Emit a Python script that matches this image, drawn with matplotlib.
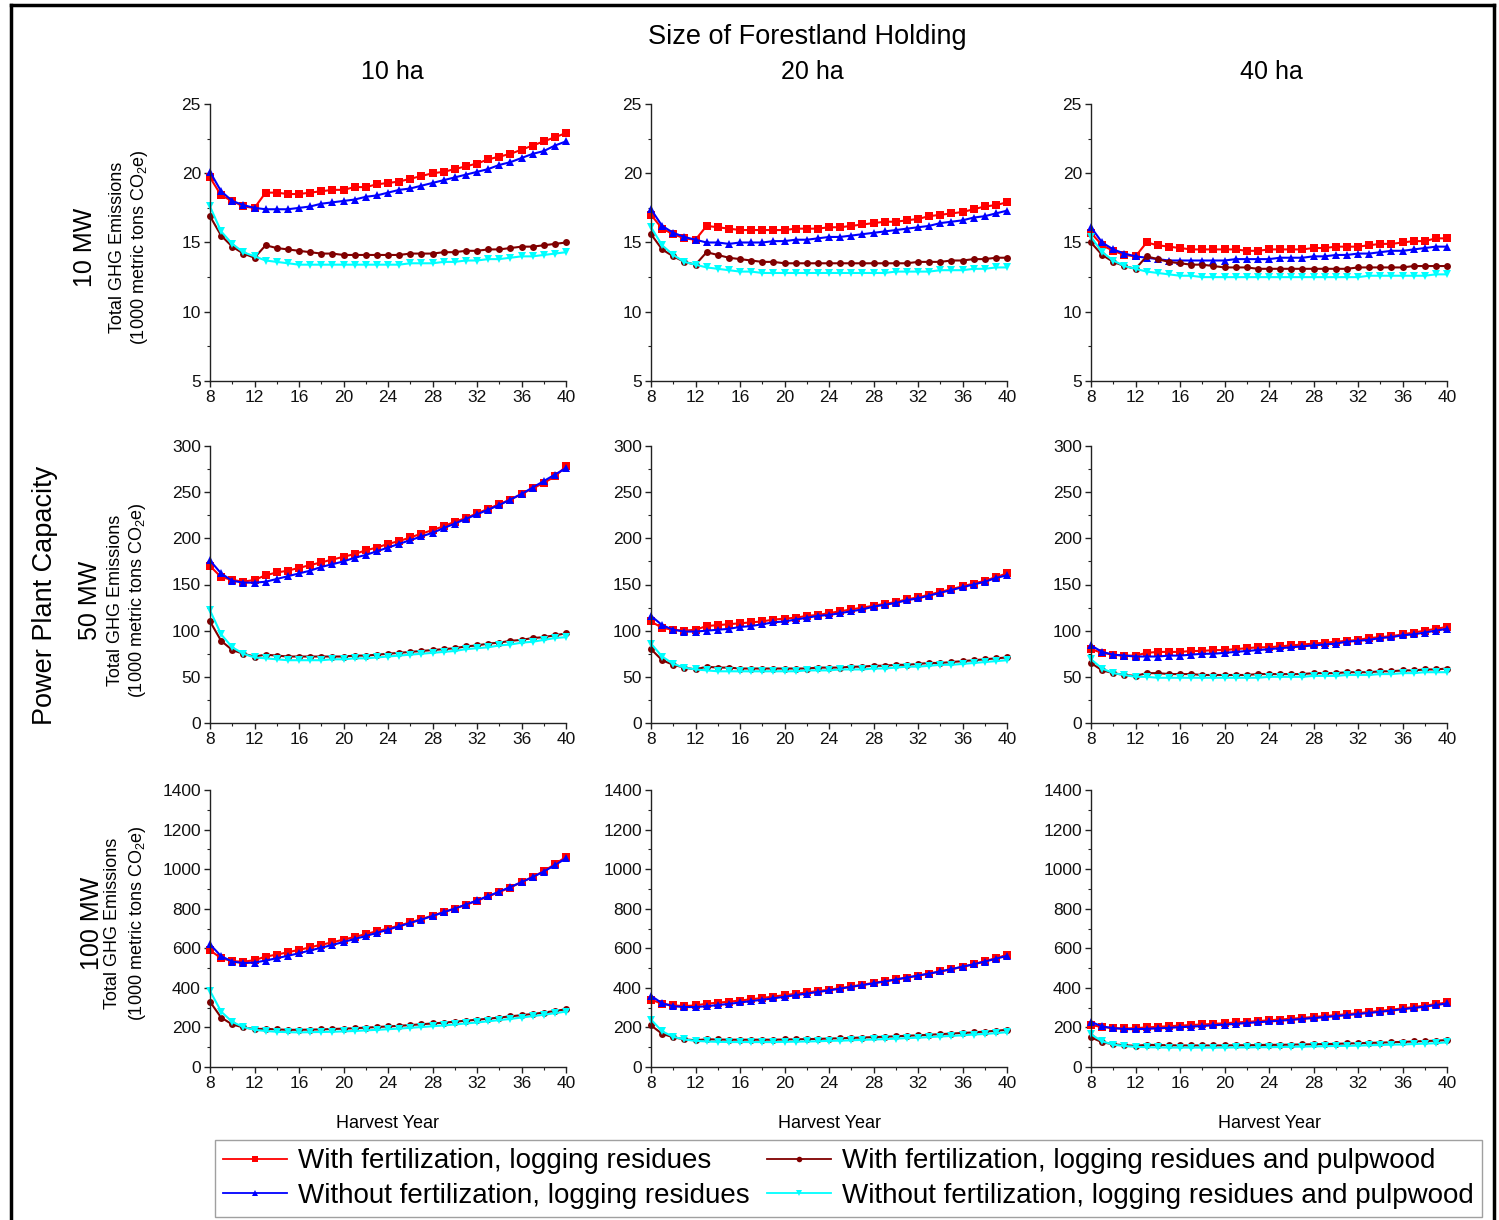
import matplotlib
matplotlib.use("Agg")
import matplotlib.pyplot as plt
from matplotlib.ticker import MultipleLocator, AutoMinorLocator
from matplotlib.lines import Line2D

plt.rcParams['font.family'] = ['Liberation Sans', 'DejaVu Sans']
plt.rcParams['mathtext.fontset'] = 'custom'
plt.rcParams['mathtext.rm'] = 'Liberation Sans'
plt.rcParams['mathtext.it'] = 'Liberation Sans:italic'

# ---------------- data ----------------
harvest_year = list(range(8, 41))

capacities = ["10 MW", "50 MW", "100 MW"]
holdings = ["10 ha", "20 ha", "40 ha"]
series_labels = ["With fertilization, logging residues",
                 "Without fertilization, logging residues",
                 "With fertilization, logging residues and pulpwood",
                 "Without fertilization, logging residues and pulpwood"]

# 10 MW, 10 ha
mw10_ha10_fert_res = [19.7, 18.4, 18.0, 17.6, 17.5, 18.6, 18.6, 18.5, 18.5, 18.6, 18.7, 18.8, 18.8, 19.0, 19.0, 19.2, 19.3,
                      19.4, 19.6, 19.8, 20.0, 20.1, 20.3, 20.5, 20.7, 21.0, 21.2, 21.4, 21.7, 22.0, 22.3, 22.6, 22.9]
mw10_ha10_nofert_res = [20.1, 18.7, 18.0, 17.7, 17.5, 17.4, 17.4, 17.4, 17.5, 17.6, 17.8, 17.9, 18.0, 18.1, 18.3, 18.4, 18.6,
                        18.8, 18.9, 19.1, 19.3, 19.5, 19.7, 19.9, 20.1, 20.3, 20.6, 20.8, 21.1, 21.4, 21.6, 22.0, 22.3]
mw10_ha10_fert_pulp = [16.9, 15.5, 14.7, 14.2, 13.9, 14.8, 14.6, 14.5, 14.4, 14.3, 14.2, 14.2, 14.1, 14.1, 14.1, 14.1, 14.1,
                       14.1, 14.2, 14.2, 14.2, 14.3, 14.3, 14.4, 14.4, 14.5, 14.5, 14.6, 14.7, 14.7, 14.8, 14.9, 15.0]
mw10_ha10_nofert_pulp = [17.6, 15.8, 14.9, 14.3, 14.0, 13.7, 13.6, 13.5, 13.4, 13.4, 13.4, 13.4, 13.4, 13.4, 13.4, 13.4, 13.4,
                         13.4, 13.5, 13.5, 13.5, 13.6, 13.6, 13.7, 13.7, 13.8, 13.8, 13.9, 14.0, 14.0, 14.1, 14.2, 14.3]

# 10 MW, 20 ha
mw10_ha20_fert_res = [17.0, 16.0, 15.6, 15.3, 15.2, 16.2, 16.1, 16.0, 15.9, 15.9, 15.9, 15.9, 15.9, 16.0, 16.0, 16.0, 16.1,
                      16.1, 16.2, 16.3, 16.4, 16.5, 16.5, 16.6, 16.7, 16.9, 17.0, 17.1, 17.2, 17.4, 17.6, 17.7, 17.9]
mw10_ha20_nofert_res = [17.4, 16.2, 15.7, 15.4, 15.2, 15.0, 15.0, 14.9, 15.0, 15.0, 15.0, 15.1, 15.1, 15.2, 15.2, 15.3, 15.4,
                        15.4, 15.5, 15.6, 15.7, 15.8, 15.9, 16.0, 16.1, 16.2, 16.4, 16.5, 16.6, 16.8, 16.9, 17.1, 17.3]
mw10_ha20_fert_pulp = [15.6, 14.5, 14.0, 13.6, 13.4, 14.3, 14.1, 13.9, 13.8, 13.7, 13.6, 13.6, 13.5, 13.5, 13.5, 13.5, 13.5,
                       13.5, 13.5, 13.5, 13.5, 13.5, 13.5, 13.5, 13.6, 13.6, 13.6, 13.7, 13.7, 13.8, 13.8, 13.9, 13.9]
mw10_ha20_nofert_pulp = [16.1, 14.8, 14.1, 13.6, 13.4, 13.2, 13.1, 13.0, 12.9, 12.9, 12.8, 12.8, 12.8, 12.8, 12.8, 12.8, 12.8,
                         12.8, 12.8, 12.8, 12.8, 12.8, 12.9, 12.9, 12.9, 12.9, 13.0, 13.0, 13.0, 13.1, 13.1, 13.2, 13.2]

# 10 MW, 40 ha
mw10_ha40_fert_res = [15.7, 14.8, 14.4, 14.1, 14.0, 15.0, 14.8, 14.7, 14.6, 14.5, 14.5, 14.5, 14.5, 14.5, 14.4, 14.4, 14.5,
                      14.5, 14.5, 14.5, 14.6, 14.6, 14.7, 14.7, 14.7, 14.8, 14.9, 14.9, 15.0, 15.1, 15.1, 15.3, 15.3]
mw10_ha40_nofert_res = [16.1, 15.0, 14.5, 14.2, 14.0, 13.9, 13.8, 13.7, 13.7, 13.7, 13.7, 13.7, 13.7, 13.8, 13.8, 13.8, 13.8,
                        13.9, 13.9, 13.9, 14.0, 14.0, 14.1, 14.1, 14.2, 14.2, 14.3, 14.4, 14.4, 14.5, 14.6, 14.7, 14.7]
mw10_ha40_fert_pulp = [15.0, 14.1, 13.6, 13.3, 13.1, 14.0, 13.8, 13.6, 13.5, 13.4, 13.4, 13.3, 13.2, 13.2, 13.2, 13.1, 13.1,
                       13.1, 13.1, 13.1, 13.1, 13.1, 13.1, 13.1, 13.2, 13.2, 13.2, 13.2, 13.2, 13.3, 13.3, 13.3, 13.3]
mw10_ha40_nofert_pulp = [15.4, 14.3, 13.7, 13.3, 13.1, 12.9, 12.8, 12.7, 12.6, 12.6, 12.5, 12.5, 12.5, 12.5, 12.5, 12.5, 12.5,
                         12.5, 12.5, 12.5, 12.5, 12.5, 12.5, 12.5, 12.5, 12.6, 12.6, 12.6, 12.6, 12.6, 12.6, 12.7, 12.7]

# 50 MW, 10 ha
mw50_ha10_fert_res = [170, 158, 155, 153, 155, 160, 163, 165, 168, 171, 174, 177, 180, 183, 187, 190, 194,
                      197, 201, 205, 209, 213, 218, 222, 227, 232, 237, 242, 248, 254, 260, 267, 278]
mw50_ha10_nofert_res = [176, 162, 154, 152, 152, 153, 156, 159, 162, 165, 169, 172, 175, 179, 182, 186, 190,
                        194, 198, 202, 206, 211, 216, 221, 226, 231, 236, 242, 248, 255, 262, 269, 276]
mw50_ha10_fert_pulp = [110, 89, 79, 75, 72, 74, 73, 72, 72, 72, 72, 72, 72, 73, 73, 74, 75,
                       76, 77, 78, 79, 80, 81, 83, 84, 86, 87, 89, 90, 92, 93, 95, 97]
mw50_ha10_nofert_pulp = [122, 96, 82, 75, 71, 70, 69, 68, 68, 68, 68, 69, 69, 70, 70, 71, 72,
                         73, 74, 75, 76, 77, 78, 80, 81, 82, 84, 85, 87, 88, 90, 92, 93]

# 50 MW, 20 ha
mw50_ha20_fert_res = [110, 103, 101, 100, 101, 105, 106, 107, 108, 109, 110, 112, 113, 114, 116, 117, 119,
                      121, 123, 125, 127, 129, 131, 134, 136, 139, 142, 145, 148, 151, 154, 158, 162]
mw50_ha20_nofert_res = [116, 106, 101, 99, 99, 100, 101, 102, 104, 105, 107, 109, 110, 112, 114, 116, 117,
                        119, 121, 123, 126, 128, 130, 133, 135, 138, 141, 144, 147, 150, 153, 157, 160]
mw50_ha20_fert_pulp = [80, 68, 63, 60, 58, 61, 60, 60, 59, 59, 59, 59, 59, 59, 59, 60, 60,
                       60, 61, 61, 62, 62, 63, 63, 64, 65, 65, 66, 67, 68, 69, 70, 71]
mw50_ha20_nofert_pulp = [86, 72, 64, 60, 58, 57, 56, 56, 56, 56, 56, 56, 56, 56, 57, 57, 57,
                         58, 58, 58, 59, 59, 60, 61, 61, 62, 63, 63, 64, 65, 66, 67, 68]

# 50 MW, 40 ha
mw50_ha40_fert_res = [80, 76, 74, 73, 73, 76, 77, 77, 77, 78, 78, 79, 79, 80, 81, 82, 82,
                      83, 84, 85, 86, 87, 88, 89, 90, 92, 93, 94, 96, 98, 100, 102, 104]
mw50_ha40_nofert_res = [84, 77, 74, 73, 72, 72, 72, 73, 73, 74, 75, 75, 76, 77, 78, 79, 80,
                        81, 82, 83, 84, 85, 86, 88, 89, 90, 92, 93, 95, 96, 98, 100, 102]
mw50_ha40_fert_pulp = [65, 57, 54, 52, 51, 54, 54, 53, 53, 53, 52, 52, 52, 52, 52, 53, 53,
                       53, 53, 53, 54, 54, 54, 55, 55, 55, 56, 56, 57, 57, 58, 58, 59]
mw50_ha40_nofert_pulp = [69, 59, 54, 52, 50, 50, 49, 49, 49, 49, 49, 49, 49, 49, 49, 49, 50,
                         50, 50, 50, 51, 51, 51, 52, 52, 52, 53, 53, 54, 54, 55, 55, 55]

# 100 MW, 10 ha
mw100_ha10_fert_res = [590, 550, 535, 532, 540, 558, 568, 580, 592, 605, 618, 630, 644, 657, 672, 686, 700,
                       715, 731, 748, 765, 783, 801, 820, 840, 862, 884, 907, 935, 960, 990, 1025, 1062]
mw100_ha10_nofert_res = [620, 560, 533, 525, 528, 538, 550, 562, 575, 589, 603, 617, 632, 647, 662, 678, 694,
                         711, 728, 745, 763, 782, 801, 821, 842, 864, 886, 910, 934, 960, 988, 1020, 1055]
mw100_ha10_fert_pulp = [330, 250, 215, 200, 192, 193, 190, 188, 188, 189, 190, 192, 194, 196, 199, 202, 205,
                        208, 212, 216, 220, 224, 229, 234, 239, 244, 250, 256, 262, 268, 275, 283, 292]
mw100_ha10_nofert_pulp = [385, 280, 228, 202, 188, 182, 178, 176, 175, 176, 177, 178, 180, 182, 185, 188, 191,
                          194, 198, 202, 206, 210, 215, 220, 225, 231, 237, 243, 250, 257, 264, 272, 280]

# 100 MW, 20 ha
mw100_ha20_fert_res = [340, 320, 311, 308, 311, 320, 325, 330, 336, 342, 349, 356, 363, 370, 377, 384, 391,
                       399, 407, 416, 425, 434, 443, 452, 462, 472, 483, 494, 506, 520, 535, 550, 567]
mw100_ha20_nofert_res = [360, 322, 307, 303, 303, 307, 313, 319, 326, 333, 340, 347, 355, 363, 371, 379, 387,
                         396, 405, 414, 423, 432, 442, 452, 462, 472, 483, 495, 507, 519, 533, 547, 562]
mw100_ha20_fert_pulp = [210, 168, 150, 140, 135, 140, 139, 138, 138, 138, 138, 138, 139, 140, 141, 142, 144,
                        145, 147, 149, 151, 153, 155, 158, 160, 163, 166, 169, 172, 175, 179, 183, 188]
mw100_ha20_nofert_pulp = [240, 180, 153, 139, 132, 129, 127, 126, 126, 126, 126, 126, 127, 128, 129, 130, 132,
                          133, 135, 137, 139, 141, 143, 146, 148, 151, 154, 157, 160, 164, 167, 171, 176]

# 100 MW, 40 ha
mw100_ha40_fert_res = [212, 202, 197, 195, 196, 200, 203, 206, 209, 212, 215, 218, 221, 225, 228, 232, 236,
                       240, 244, 248, 253, 257, 262, 267, 272, 278, 284, 290, 296, 303, 310, 318, 326]
mw100_ha40_nofert_res = [228, 205, 196, 192, 191, 193, 195, 198, 201, 204, 207, 211, 214, 218, 222, 226, 230,
                         234, 238, 243, 247, 252, 257, 262, 268, 273, 279, 285, 292, 298, 305, 313, 321]
mw100_ha40_fert_pulp = [150, 125, 115, 110, 107, 112, 111, 110, 109, 109, 109, 109, 109, 110, 110, 111, 112,
                        112, 113, 114, 115, 116, 117, 119, 120, 122, 123, 125, 127, 129, 131, 133, 136]
mw100_ha40_nofert_pulp = [165, 130, 113, 106, 102, 100, 99, 98, 98, 98, 98, 98, 98, 99, 99, 100, 100,
                          101, 102, 103, 104, 105, 106, 107, 108, 110, 111, 113, 114, 116, 118, 120, 125]

panels = [
    [(mw10_ha10_fert_res, mw10_ha10_nofert_res, mw10_ha10_fert_pulp, mw10_ha10_nofert_pulp),
     (mw10_ha20_fert_res, mw10_ha20_nofert_res, mw10_ha20_fert_pulp, mw10_ha20_nofert_pulp),
     (mw10_ha40_fert_res, mw10_ha40_nofert_res, mw10_ha40_fert_pulp, mw10_ha40_nofert_pulp)],
    [(mw50_ha10_fert_res, mw50_ha10_nofert_res, mw50_ha10_fert_pulp, mw50_ha10_nofert_pulp),
     (mw50_ha20_fert_res, mw50_ha20_nofert_res, mw50_ha20_fert_pulp, mw50_ha20_nofert_pulp),
     (mw50_ha40_fert_res, mw50_ha40_nofert_res, mw50_ha40_fert_pulp, mw50_ha40_nofert_pulp)],
    [(mw100_ha10_fert_res, mw100_ha10_nofert_res, mw100_ha10_fert_pulp, mw100_ha10_nofert_pulp),
     (mw100_ha20_fert_res, mw100_ha20_nofert_res, mw100_ha20_fert_pulp, mw100_ha20_nofert_pulp),
     (mw100_ha40_fert_res, mw100_ha40_nofert_res, mw100_ha40_fert_pulp, mw100_ha40_nofert_pulp)],
]

y_limits = [(5, 25), (0, 300), (0, 1400)]
y_major = [5, 50, 200]

# ---------------- styling ----------------
colors = ["#FF0000", "#0000FF", "#800000", "#00FFFF"]
markers = ["s", "^", "o", "v"]
msizes = [5.5, 6.0, 5.0, 6.0]

W, H = 1499, 1220
fig = plt.figure(figsize=(W / 100, H / 100), dpi=100)

col_left = [210, 651, 1091]
ax_w = 356
row_top = [104, 446, 790]
ax_h = 277

def fx(px):
    return px / W

def fy(py):
    return 1 - py / H

for r in range(3):
    for c in range(3):
        ax = fig.add_axes([fx(col_left[c]), fy(row_top[r] + ax_h), fx(ax_w), ax_h / H])
        for k in range(4):
            ax.plot(harvest_year, panels[r][c][k], color=colors[k], marker=markers[k],
                    markersize=msizes[k], linewidth=1.5, markeredgewidth=0, label=series_labels[k],
                    clip_on=False)
        ax.set_xlim(8, 40)
        ax.set_ylim(*y_limits[r])
        ax.xaxis.set_major_locator(MultipleLocator(4))
        ax.xaxis.set_minor_locator(AutoMinorLocator(2))
        ax.yaxis.set_major_locator(MultipleLocator(y_major[r]))
        ax.yaxis.set_minor_locator(AutoMinorLocator(2))
        for s in ["top", "right"]:
            ax.spines[s].set_visible(False)
        for s in ["left", "bottom"]:
            ax.spines[s].set_color("#222222")
            ax.spines[s].set_linewidth(1.0)
        ax.tick_params(which="major", direction="out", length=4.5, width=1.0, labelsize=12.5,
                       colors="#222222", pad=2)
        ax.tick_params(which="minor", direction="out", length=2.5, width=0.8, colors="#222222")
        ax.tick_params(axis="both", labelcolor="#111111")
        if r == 2:
            ax.set_xlabel("Harvest Year", fontsize=13, labelpad=17)

# Column headers
fig.text(fx(807), fy(37), "Size of Forestland Holding", ha="center", va="center", fontsize=19.5)
for xpos, lab in zip([392, 812, 1271], holdings):
    fig.text(fx(xpos), fy(72), lab, ha="center", va="center", fontsize=18)

# Row labels
fig.text(fx(45), fy(595), "Power Plant Capacity", rotation=90, ha="center", va="center", fontsize=19.5)
row_label_x = [(85, 117, 140), (90, 115, 138), (92, 113, 137)]
row_center = [247, 600, 923]
for r in range(3):
    xa, xb, xc = row_label_x[r]
    fig.text(fx(xa), fy(row_center[r]), capacities[r], rotation=90, ha="center", va="center", fontsize=18)
    fig.text(fx(xb), fy(row_center[r]), "Total GHG Emissions", rotation=90, ha="center", va="center", fontsize=13)
    fig.text(fx(xc), fy(row_center[r]), r"(1000 metric tons CO$_2$e)", rotation=90, ha="center",
             va="center", fontsize=13)

# Legend
handles = [Line2D([0], [0], color=colors[k], marker=markers[k], markersize=msizes[k] - 1,
                  markeredgewidth=0, linewidth=1.3) for k in range(4)]
leg = fig.legend(handles, series_labels, loc="upper left", bbox_to_anchor=(fx(215), fy(1140)),
                 ncol=2, fontsize=20, frameon=True, fancybox=False, edgecolor="#888888",
                 handlelength=2.3, handletextpad=0.4, columnspacing=0.6, labelspacing=0.3,
                 borderpad=0.3, borderaxespad=0, markerscale=1.0)
leg.get_frame().set_linewidth(1.0)

# Outer border (left, top, right)
fig.add_artist(Line2D([fx(11), fx(11)], [fy(5), 0], color="black", linewidth=2.5, transform=fig.transFigure))
fig.add_artist(Line2D([fx(11), fx(1494)], [fy(5), fy(5)], color="black", linewidth=2.5, transform=fig.transFigure))
fig.add_artist(Line2D([fx(1494), fx(1494)], [fy(5), 0], color="black", linewidth=2.5, transform=fig.transFigure))

fig.savefig("out.png", dpi=100)
